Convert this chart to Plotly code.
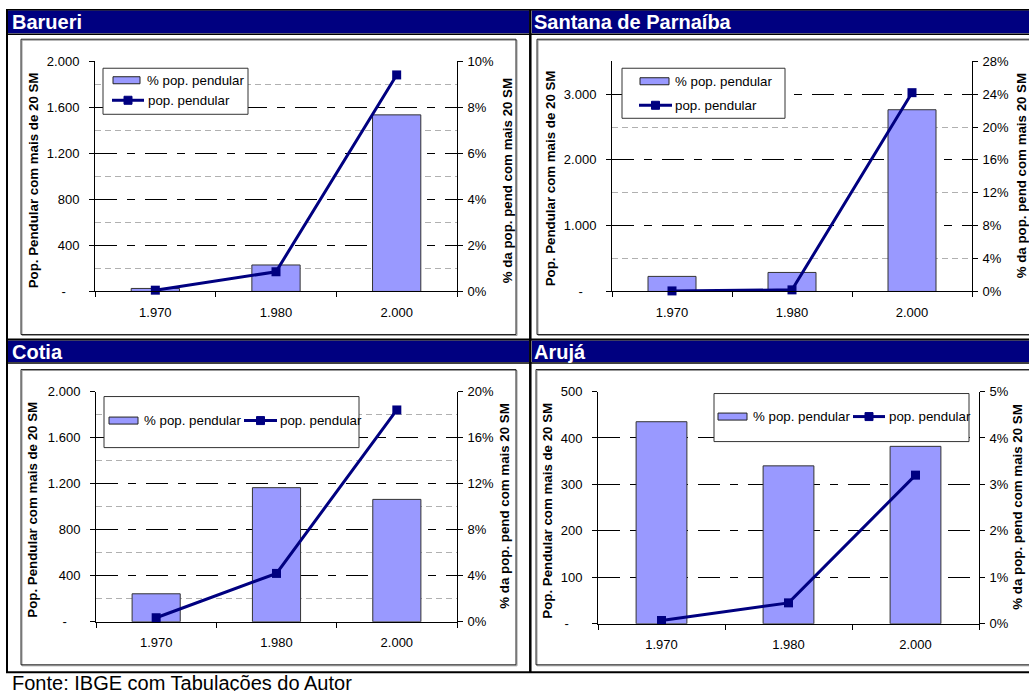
import plotly.graph_objects as go

W, H = 1029, 691

# ---------------- data ----------------
YEARS = ["1.970", "1.980", "2.000"]

BARUERI_PCT = [0.13, 1.15, 7.67]          # % pop. pendular (bars, right axis)
BARUERI_POP = [11, 171, 1881]             # pop. pendular (line, left axis)
SANTANA_PCT = [1.83, 2.31, 22.1]
SANTANA_POP = [8, 24, 3022]
COTIA_PCT = [2.43, 11.65, 10.63]
COTIA_POP = [35, 420, 1840]
ARUJA_PCT = [4.35, 3.40, 3.82]
ARUJA_POP = [7, 45, 320]

NB = "\u00a0"
DASH0 = "-" + NB * 3 + "\u2009"

BARUERI_LEFT_TICKS = [0, 400, 800, 1200, 1600, 2000]
BARUERI_LEFT_TEXT = [DASH0, "400", "800", "1.200", "1.600", "2.000"]
BARUERI_RIGHT_TICKS = [0, 2, 4, 6, 8, 10]
BARUERI_RIGHT_TEXT = ["0%", "2%", "4%", "6%", "8%", "10%"]
BARUERI_GREY_GRID = [200, 600, 1000, 1400, 1800, 2000]
BARUERI_BLACK_GRID = [400, 800, 1200, 1600]

SANTANA_LEFT_TICKS = [0, 1000, 2000, 3000]
SANTANA_LEFT_TEXT = [DASH0, "1.000", "2.000", "3.000"]
SANTANA_RIGHT_TICKS = [0, 4, 8, 12, 16, 20, 24, 28]
SANTANA_RIGHT_TEXT = ["0%", "4%", "8%", "12%", "16%", "20%", "24%", "28%"]
SANTANA_GREY_GRID = [500, 1500, 2500, 3500]
SANTANA_BLACK_GRID = [1000, 2000, 3000]

COTIA_LEFT_TICKS = [0, 400, 800, 1200, 1600, 2000]
COTIA_LEFT_TEXT = [DASH0, "400", "800", "1.200", "1.600", "2.000"]
COTIA_RIGHT_TICKS = [0, 4, 8, 12, 16, 20]
COTIA_RIGHT_TEXT = ["0%", "4%", "8%", "12%", "16%", "20%"]
COTIA_GREY_GRID = [200, 600, 1000, 1400, 1800, 2000]
COTIA_BLACK_GRID = [400, 800, 1200, 1600]

ARUJA_LEFT_TICKS = [0, 100, 200, 300, 400, 500]
ARUJA_LEFT_TEXT = [DASH0, "100", "200", "300", "400", "500"]
ARUJA_RIGHT_TICKS = [0, 1, 2, 3, 4, 5]
ARUJA_RIGHT_TEXT = ["0%", "1%", "2%", "3%", "4%", "5%"]
ARUJA_GREY_GRID = [500]
ARUJA_BLACK_GRID = [100, 200, 300, 400]

LEFT_TITLE = "Pop. Pendular com mais de 20 SM"
RIGHT_TITLE = "% da pop. pend com mais 20 SM"
BAR_NAME = "% pop. pendular"
LINE_NAME = "pop. pendular"
SOURCE = "Fonte: IBGE com Tabulações do Autor"

panels = [
    dict(title="Barueri", pct=BARUERI_PCT, pop=BARUERI_POP,
         lt=BARUERI_LEFT_TICKS, ltx=BARUERI_LEFT_TEXT, lmax=2000,
         rt=BARUERI_RIGHT_TICKS, rtx=BARUERI_RIGHT_TEXT, rmax=10,
         grey=BARUERI_GREY_GRID, black=BARUERI_BLACK_GRID),
    dict(title="Santana de Parnaíba", pct=SANTANA_PCT, pop=SANTANA_POP,
         lt=SANTANA_LEFT_TICKS, ltx=SANTANA_LEFT_TEXT, lmax=3500,
         rt=SANTANA_RIGHT_TICKS, rtx=SANTANA_RIGHT_TEXT, rmax=28,
         grey=SANTANA_GREY_GRID, black=SANTANA_BLACK_GRID),
    dict(title="Cotia", pct=COTIA_PCT, pop=COTIA_POP,
         lt=COTIA_LEFT_TICKS, ltx=COTIA_LEFT_TEXT, lmax=2000,
         rt=COTIA_RIGHT_TICKS, rtx=COTIA_RIGHT_TEXT, rmax=20,
         grey=COTIA_GREY_GRID, black=COTIA_BLACK_GRID),
    dict(title="Arujá", pct=ARUJA_PCT, pop=ARUJA_POP,
         lt=ARUJA_LEFT_TICKS, ltx=ARUJA_LEFT_TEXT, lmax=500,
         rt=ARUJA_RIGHT_TICKS, rtx=ARUJA_RIGHT_TEXT, rmax=5,
         grey=ARUJA_GREY_GRID, black=ARUJA_BLACK_GRID),
]

# ---------------- geometry (pixels of the target picture) ----------------
geoms = [
    dict(plot=(95, 62, 457, 292), box=(21, 40, 516, 335), title_x=10, title_y=22.5,
         ltitle=(33, 181), rtitle=(507, 182),
         legend=dict(box=(103, 69, 248, 115),
                     bar=(113, 140, 81), bar_tx=145, line=(112, 144, 101), line_tx=146)),
    dict(plot=(612, 62, 972, 292), box=(537, 40, 1040, 335), title_x=532, title_y=22.5,
         ltitle=(550, 179), rtitle=(1021, 177),
         legend=dict(box=(622, 69, 785, 119),
                     bar=(640, 669, 82), bar_tx=673, line=(639, 672, 106), line_tx=673)),
    dict(plot=(96, 392, 457, 622), box=(21, 370, 516, 665), title_x=10, title_y=352,
         ltitle=(33, 510), rtitle=(505, 507),
         legend=dict(box=(104, 397, 359, 448),
                     bar=(109, 138, 421), bar_tx=142, line=(244, 277, 421), line_tx=278)),
    dict(plot=(598, 392, 979, 624), box=(536, 370, 1040, 665), title_x=532, title_y=352,
         ltitle=(548, 511), rtitle=(1018, 508),
         legend=dict(box=(714, 394, 969, 442),
                     bar=(718, 747, 417), bar_tx=751, line=(853, 885, 417), line_tx=887)),
]

FONT = "Arial, Liberation Sans, sans-serif"
NAVY = "#000080"
BARC = "#9999FF"

# the photographed page maps figure y -> 8*s + y*s (s = 691/707); invert that
S = 691.0 / 707.0


def px(x):
    return x / W


def py(y):
    yf = y / S - 8.0
    return 1 - yf / H


fig = go.Figure()
shapes = []
annotations = []
layout_axes = {}


def rect(x0, y0, x1, y1, fill=None, line=None, lw=1, layer="below"):
    d = dict(type="rect", xref="paper", yref="paper",
             x0=px(x0), x1=px(x1), y0=py(y1), y1=py(y0), layer=layer,
             line=dict(width=lw if line else 0, color=line or "rgba(0,0,0,0)"))
    d["fillcolor"] = fill if fill else "rgba(0,0,0,0)"
    shapes.append(d)


def hline(x0, x1, y, color, lw, layer="below"):
    shapes.append(dict(type="line", xref="paper", yref="paper",
                       x0=px(x0), x1=px(x1), y0=py(y), y1=py(y), layer=layer,
                       line=dict(color=color, width=lw)))


def vline(x, y0, y1, color, lw, layer="below"):
    shapes.append(dict(type="line", xref="paper", yref="paper",
                       x0=px(x), x1=px(x), y0=py(y0), y1=py(y1), layer=layer,
                       line=dict(color=color, width=lw)))


def text(x, y, s, size, color="black", bold=False, xanchor="left", yanchor="middle", angle=0):
    annotations.append(dict(xref="paper", yref="paper", x=px(x), y=py(y), text=("<b>%s</b>" % s) if bold else s,
                            showarrow=False, xanchor=xanchor, yanchor=yanchor, textangle=angle,
                            font=dict(family=FONT, size=size, color=color)))


# ----- frame -----
rect(8, 11, 529, 34, fill=NAVY)
rect(532, 11, 1040, 34, fill=NAVY)
rect(8, 341, 529, 362.5, fill=NAVY)
rect(532, 341, 1040, 362.5, fill=NAVY)
hline(7, 1040, 35, "black", 1.5)
hline(7, 1040, 340, "black", 2)
hline(7, 1040, 363.5, "black", 1.5)
hline(6, 1040, 10.5, "black", 1.5)
hline(6, 1040, 672.5, "black", 2)
vline(7, 10, 673, "black", 2)
vline(530.3, 10, 673, "black", 2.5)

tick_font = dict(family=FONT, size=13, color="black")

for i, (p, g) in enumerate(zip(panels, geoms)):
    xn = "" if i == 0 else str(i + 1)
    b = 3 * i + 1
    yb = "" if b == 1 else str(b)
    y1n = str(b + 1)
    y2n = str(b + 2)
    xref = "x" + xn
    X0, Y0, X1, Y1 = g["plot"]

    fig.add_trace(go.Bar(x=YEARS, y=p["pct"], xaxis=xref, yaxis="y" + yb, width=0.4, name=BAR_NAME,
                         marker=dict(color=BARC, line=dict(color="#333333", width=1)),
                         showlegend=False, hoverinfo="skip"))
    fig.add_trace(go.Scatter(x=YEARS, y=p["pop"], xaxis=xref, yaxis="y" + y1n, name=LINE_NAME,
                             mode="lines+markers", line=dict(color=NAVY, width=3),
                             marker=dict(symbol="square", size=9, color=NAVY),
                             showlegend=False, hoverinfo="skip", cliponaxis=False))
    fig.add_trace(go.Scatter(x=[], y=[], xaxis=xref, yaxis="y" + y2n, showlegend=False, hoverinfo="skip"))

    layout_axes["xaxis" + xn] = dict(
        domain=[px(X0), px(X1)], anchor="y" + yb, type="category",
        categoryorder="array", categoryarray=YEARS, range=[-0.5, 2.5],
        showline=True, linecolor="black", linewidth=1, ticks="outside", tickson="boundaries",
        ticklen=5, tickcolor="black", tickwidth=1, tickfont=tick_font, showgrid=False,
        zeroline=False, ticklabelstandoff=9)
    layout_axes["yaxis" + yb] = dict(
        domain=[py(Y1), py(Y0)], anchor=xref, side="right", range=[0, p["rmax"]],
        tickmode="array", tickvals=p["rt"], ticktext=p["rtx"], ticks="outside", ticklen=5,
        tickcolor="black", showline=True, linecolor="black", linewidth=1, showgrid=False,
        zeroline=False, tickfont=tick_font, ticklabelstandoff=2)
    layout_axes["yaxis" + y1n] = dict(
        overlaying="y" + yb, anchor=xref, side="left", range=[0, p["lmax"]],
        tickmode="array", tickvals=p["lt"], ticktext=p["ltx"], ticks="outside", ticklen=5,
        tickcolor="black", showline=True, linecolor="black", linewidth=1, showgrid=False,
        zeroline=False, tickfont=tick_font, ticklabelstandoff=7)
    layout_axes["yaxis" + y2n] = dict(
        overlaying="y" + yb, anchor=xref, side="left", range=[0, p["lmax"]],
        tickmode="array", tickvals=p["grey"], showticklabels=False, ticks="", showline=False,
        zeroline=False, showgrid=True, gridcolor="#b0b0b0", gridwidth=1, griddash="6px,4px",
        minor=dict(tickmode="array", tickvals=p["black"], showgrid=True, gridcolor="black",
                   gridwidth=1, griddash="22px,10px,8px,10px", ticks=""))

    bx0, by0, bx1, by1 = g["box"]
    rect(bx0 + 1, by0 + 1, bx1 + 1, by1 + 1, line="#9a9a9a", lw=1)
    rect(bx0, by0, bx1, by1, line="#222222", lw=1)

    text(g["title_x"], g["title_y"], p["title"], 20, color="white", bold=True)

    text(g["ltitle"][0], g["ltitle"][1], LEFT_TITLE, 13.3, bold=True, xanchor="center", angle=-90)
    text(g["rtitle"][0], g["rtitle"][1], RIGHT_TITLE, 13.3, bold=True, xanchor="center", angle=-90)

    L = g["legend"]
    lx0, ly0, lx1, ly1 = L["box"]
    rect(lx0, ly0, lx1, ly1, fill="white", line="#333333", lw=1, layer="above")
    sx0, sx1, sy = L["bar"]
    rect(sx0, sy - 3.5, sx1, sy + 3.5, fill=BARC, line="#222222", lw=1, layer="above")
    text(L["bar_tx"], sy, BAR_NAME, 13.3)
    lx0_, lx1_, ly_ = L["line"]
    hline(lx0_, lx1_, ly_, NAVY, 3, layer="above")
    cx = (lx0_ + lx1_) / 2
    rect(cx - 4, ly_ - 4, cx + 4, ly_ + 4, fill=NAVY, line=NAVY, lw=1, layer="above")
    text(L["line_tx"], ly_, LINE_NAME, 13.3)

text(10, 696.0, SOURCE, 20, yanchor="bottom")

fig.update_layout(
    width=W, height=H, margin=dict(l=0, r=0, t=0, b=0),
    paper_bgcolor="white", plot_bgcolor="white",
    showlegend=False, shapes=shapes, annotations=annotations,
    font=dict(family=FONT, color="black"),
    barmode="overlay",
    **layout_axes,
)

fig.write_html("out.html")
